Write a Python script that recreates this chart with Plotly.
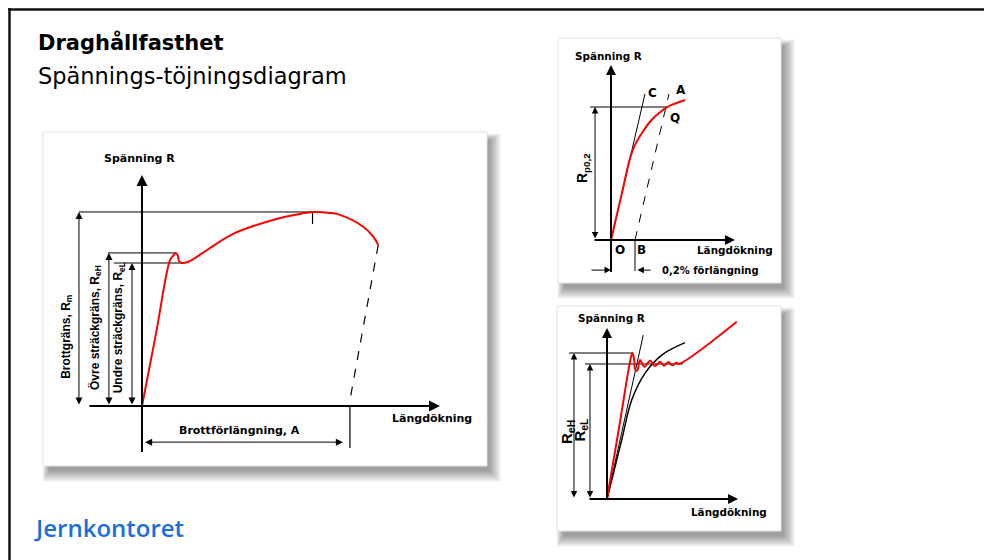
import plotly.graph_objects as go

W, H = 984, 560
HF = "DejaVu Sans"        # horizontal labels (wide sans)
RF = "Liberation Sans"    # rotated labels

# ---------------- Panel 1: full curve (units: A = 100, Rm = 100) ----------------
p1_x = [0, 6.8, 13.5, 14.9, 16.3, 17.3, 17.8, 19.2, 22.1, 31.3, 43.8, 63.0, 76.0, 82.0, 90.4, 95.2, 106.4, 111.2, 113.6]
p1_y = [0, 37.7, 75.3, 77.3, 78.9, 77.3, 74.7, 73.7, 74.2, 80.4, 88.7, 95.9, 99.0, 100.0, 99.5, 98.5, 92.4, 87.3, 83.0]
p1_unload_x = [113.6, 100.0]
p1_unload_y = [83.0, 3.1]
p1_Rm, p1_ReH, p1_ReL, p1_A = 100.0, 78.9, 73.7, 100.0

# ---------------- Panel 2: proof stress (x in % elongation, Rp0.2 = 100) ----------------
p2_x = [0, 0.09, 0.165, 0.205, 0.258, 0.33, 0.40, 0.467, 0.617]
p2_y = [0, 34.9, 63.5, 72.5, 80.5, 89.5, 95.5, 100.0, 105.3]
p2_tangent_x = [0, 0.283]
p2_tangent_y = [0, 109.8]
p2_offset_x = [0.2, 0.483]
p2_offset_y = [0, 109.8]
p2_Rp, p2_B = 100.0, 0.2

# ---------------- Panel 3: yield point (ReH = 100) ----------------
p3_red_x = [0, 9.2, 18.4, 19.6, 20.8, 21.8, 23.3, 25.4, 28.7, 33.1, 36.9, 40.8, 43.8, 47.2, 50.2, 53.6, 55.0, 99.8]
p3_red_y = [0, 48.5, 97.0, 100.0, 96.0, 88.5, 88.0, 95.2, 90.6, 94.7, 91.1, 94.0, 91.3, 93.8, 91.6, 93.4, 92.5, 121.4]
p3_black_x = [0, 11.3, 19.0, 29.2, 42.1, 60.0]
p3_black_y = [0, 40.4, 67.8, 86.1, 98.6, 107.1]
p3_tangent_x = [0, 27.9]
p3_tangent_y = [0, 112.3]
p3_ReH, p3_ReL = 100.0, 92.5

fig = go.Figure()


def line(xs, ys, a, color="black", width=1.0, dash=None, shape="linear"):
    fig.add_trace(go.Scatter(
        x=xs, y=ys, xaxis="x" + a, yaxis="y" + a, mode="lines",
        line=dict(color=color, width=width, dash=dash, shape=shape, smoothing=1.0),
        hoverinfo="skip", showlegend=False))


def arrow(x, y, x0, y0, a, width=1.0, both=False, size=1.0):
    fig.add_annotation(
        x=x, y=y, ax=x0, ay=y0, xref="x" + a, yref="y" + a, axref="x" + a, ayref="y" + a,
        text="", showarrow=True, arrowhead=2, arrowsize=size, arrowwidth=width,
        arrowcolor="black", arrowside="end+start" if both else "end",
        startarrowhead=2, startarrowsize=size, standoff=0, startstandoff=0)


def label(x, y, text, a, size, angle=0, family=HF, xanchor="center", color="black"):
    fig.add_annotation(
        x=x, y=y, xref="x" + a, yref="y" + a, text=text, showarrow=False,
        font=dict(family=family, size=size, color=color), textangle=angle,
        xanchor=xanchor, yanchor="middle")


# ---------- Panel 1 ----------
a = ""
peak_x = p1_x[p1_y.index(max(p1_y))]
line(p1_unload_x, p1_unload_y, a, dash="dash", width=1.2)
line([-30.3, peak_x], [p1_Rm, p1_Rm], a)
line([peak_x, peak_x], [p1_Rm, p1_Rm - 6.2], a, width=1.2)
line([-16.3, 16.3], [p1_ReH, p1_ReH], a)
line([-13.5, 19.2], [p1_ReL, p1_ReL], a)
line([p1_A, p1_A], [0, -21.6], a, width=1.2)
line([0, 0], [0, -23.7], a, width=2)
line(p1_x, p1_y, a, color="#ff0000", width=2, shape="spline")
arrow(143.3, 0, -26, 0, a, width=2, size=1.1)
arrow(0, 119.1, 0, 0, a, width=2, size=1.1)
arrow(-30.3, p1_Rm, -30.3, 0, a, both=True, size=1.4)
arrow(-15.9, p1_ReH, -15.9, 0, a, both=True, size=1.4)
arrow(-4.8, p1_ReL, -4.8, 0, a, both=True, size=1.4)
arrow(96.6, -18.6, 0.8, -18.6, a, both=True, size=1.4)
label(-1.4, 127.8, "<b>Spänning R</b>", a, 11)
label(139.4, -6.2, "<b>Längdökning</b>", a, 11)
label(47.1, -12.4, "<b>Brottförlängning, A</b>", a, 11)
label(-36.1, 35.6, "<b>Brottgräns, R<sub>m</sub></b>", a, 12, angle=-90, family=RF)
label(-22.6, 40.7, "<b>Övre sträckgräns, R<sub>eH</sub></b>", a, 12, angle=-90, family=RF)
label(-10.9, 40.2, "<b>Undre sträckgräns, R<sub>eL</sub></b>", a, 12, angle=-90, family=RF)

# ---------- Panel 2 ----------
a = "2"
line(p2_tangent_x, p2_tangent_y, a)
line(p2_offset_x, p2_offset_y, a, dash="dash", width=1)
line([-0.175, 0.467], [p2_Rp, p2_Rp], a)
line([p2_B, p2_B], [0, -23.3], a)
line([0, 0], [0, -24.1], a, width=2)
line(p2_x, p2_y, a, color="#ff0000", width=2, shape="spline")
arrow(1.033, 0, -0.15, 0, a, width=2, size=1.0)
arrow(0, 131.6, 0, 0, a, width=2, size=1.0)
arrow(-0.133, p2_Rp, -0.133, 0, a, both=True, size=1.3)
arrow(0, -22.6, -0.175, -22.6, a, size=1.3)
arrow(p2_B + 0.02, -22.6, 0.342, -22.6, a, size=1.3)
label(-0.017, 138.3, "<b>Spänning R</b>", a, 10.4)
label(1.033, -7.5, "<b>Längdökning</b>", a, 10.4)
label(0.342, 110.5, "<b>C</b>", a, 12)
label(0.583, 112.8, "<b>A</b>", a, 12)
label(0.533, 91.7, "<b>Q</b>", a, 12)
label(0.075, -7.5, "<b>O</b>", a, 12)
label(0.258, -7.5, "<b>B</b>", a, 12)
label(0.833, -22.6, "<b>0,2% förlängning</b>", a, 10)
label(-0.233, 54.1, "<b>R<sub>p0,2</sub></b>", a, 14, angle=-90, family=RF)

# ---------- Panel 3 ----------
a = "3"
line(p3_tangent_x, p3_tangent_y, a)
line(p3_black_x, p3_black_y, a, width=1.5, shape="spline")
line([-29.2, 20.0], [p3_ReH, p3_ReH], a)
line([-16.9, 58.5], [p3_ReL, p3_ReL], a)
line(p3_red_x, p3_red_y, a, color="#ff0000", width=2, shape="spline")
arrow(100.8, 0, -14.6, 0, a, width=2, size=1.0)
arrow(0, 117.1, 0, 0, a, width=2, size=1.0)
arrow(-25.4, p3_ReH, -25.4, 0, a, both=True, size=1.3)
arrow(-13.1, p3_ReL, -13.1, 0, a, both=True, size=1.3)
label(3.8, 124.0, "<b>Spänning R</b>", a, 10.4)
label(93.8, -8.9, "<b>Längdökning</b>", a, 10.4)
label(-30.8, 45.9, "<b>R<sub>eH</sub></b>", a, 15, angle=-90, family=RF)
label(-20.3, 47.3, "<b>R<sub>eL</sub></b>", a, 15, angle=-90, family=RF)

# ---------- Page decoration ----------
shapes = []


def prect(x0, y0, x1, y1, **kw):
    d = dict(type="rect", xref="paper", yref="paper",
             x0=x0 / W, x1=x1 / W, y0=1 - y1 / H, y1=1 - y0 / H, layer="below")
    d.update(kw)
    return d


panels = [(43, 132, 487, 466), (558, 38, 781, 283), (557, 306, 781, 531)]
for (x0, y0, x1, y1) in panels:
    for i in range(10):
        s = i * 1.2
        shapes.append(prect(x0 + 6 - 0.6 * s, y0 + 8 - 0.6 * s, x1 + 3 + s, y1 + 5 + s,
                            fillcolor="rgba(0,0,0,0.045)", line=dict(width=0)))
    shapes.append(prect(x0, y0, x1, y1, fillcolor="white", line=dict(color="#e2e2e2", width=1)))

shapes.append(dict(type="line", xref="paper", yref="paper", x0=9.5 / W, x1=9.5 / W,
                   y0=0, y1=1 - 8 / H, line=dict(color="#111", width=2.5), layer="above"))
shapes.append(dict(type="line", xref="paper", yref="paper", x0=8.3 / W, x1=1,
                   y0=1 - 9.5 / H, y1=1 - 9.5 / H, line=dict(color="#111", width=2.5), layer="above"))

fig.add_annotation(xref="paper", yref="paper", x=36 / W, y=1 - 43 / H, xanchor="left", yanchor="middle",
                   text="<b>Draghållfasthet</b>", showarrow=False,
                   font=dict(family=HF, size=21, color="black"))
fig.add_annotation(xref="paper", yref="paper", x=36 / W, y=1 - 76 / H, xanchor="left", yanchor="middle",
                   text="Spännings-töjningsdiagram", showarrow=False,
                   font=dict(family=HF, size=22.5, color="black"))
fig.add_annotation(xref="paper", yref="paper", x=32 / W, y=1 - 527 / H, xanchor="left", yanchor="middle",
                   text="Jernkontoret", showarrow=False,
                   font=dict(family="Open Sans", size=24, color="#1b6ee0", weight=600))


def axes(dom_x, dom_y, rx, ry, anchor):
    return (dict(domain=dom_x, range=rx, visible=False, fixedrange=True, anchor="y" + anchor),
            dict(domain=dom_y, range=ry, visible=False, fixedrange=True, anchor="x" + anchor))


x1a, y1a = axes([43 / W, 487 / W], [1 - 466 / H, 1 - 132 / H], [-47.6, 165.9], [-30.9, 141.2], "")
x2a, y2a = axes([558 / W, 781 / W], [1 - 283 / H, 1 - 38 / H], [-0.4417, 1.4167], [-32.3, 151.9], "2")
x3a, y3a = axes([557 / W, 781 / W], [1 - 531 / H, 1 - 306 / H], [-38.46, 133.85], [-21.9, 132.2], "3")

fig.update_layout(
    width=W, height=H, margin=dict(l=0, r=0, t=0, b=0),
    paper_bgcolor="white", plot_bgcolor="rgba(0,0,0,0)",
    xaxis=x1a, yaxis=y1a, xaxis2=x2a, yaxis2=y2a, xaxis3=x3a, yaxis3=y3a,
    shapes=shapes, showlegend=False,
)

fig.write_html("out.html")
